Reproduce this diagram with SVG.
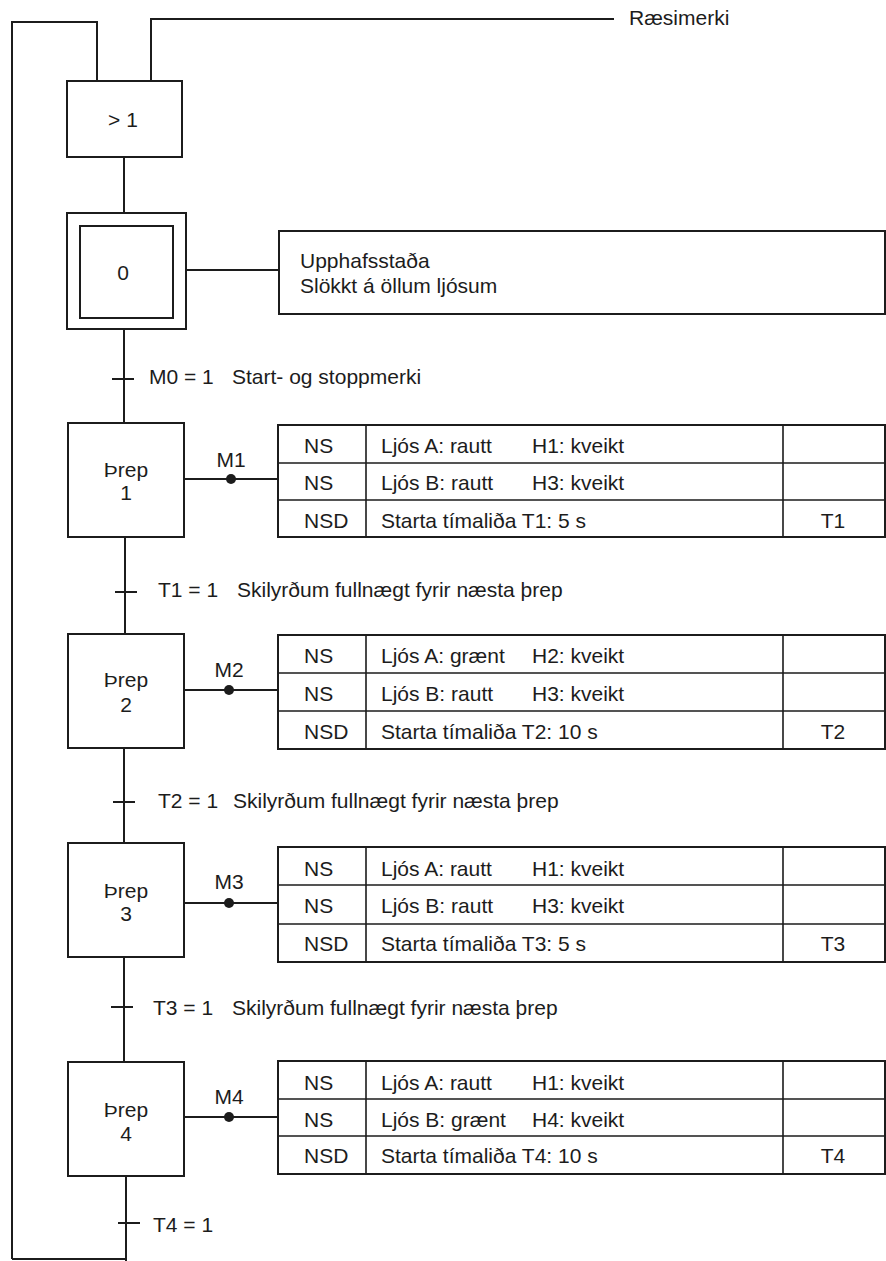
<svg xmlns="http://www.w3.org/2000/svg" width="886" height="1261" viewBox="0 0 886 1261">
<style>
.ln{stroke:#1c1c1c;stroke-width:2;fill:none}
.tl{stroke:#1c1c1c;stroke-width:1.6;fill:none}
.box{fill:#fff;stroke:#1c1c1c;stroke-width:2}
.dot{fill:#1c1c1c}
text{font-family:"Liberation Sans",Arial,Helvetica,sans-serif;font-size:21px;fill:#1c1c1c}
.c{text-anchor:middle}
</style>
<rect width="886" height="1261" fill="#fff"/>
<g id="connectors">
  <path class="ln" d="M12,1259 V22 H97 V81"/>
  <path class="ln" d="M151,81 V19 H614"/>
  <path class="ln" d="M124,157 V213"/>
  <path class="ln" d="M124,329 V423"/>
  <path class="ln" d="M112,379 H134"/>
  <path class="ln" d="M125,537 V634"/>
  <path class="ln" d="M115,592 H137"/>
  <path class="ln" d="M124,748 V843"/>
  <path class="ln" d="M113,802 H135"/>
  <path class="ln" d="M124,957 V1062"/>
  <path class="ln" d="M111,1007 H133"/>
  <path class="ln" d="M126,1176 V1261"/>
  <path class="ln" d="M118,1223 H140"/>
  <path class="ln" d="M12,1259 H126"/>
  <path class="ln" d="M186,270 H279"/>
  <path class="ln" d="M184,479 H277"/>
  <circle class="dot" cx="231" cy="479" r="5"/>
  <path class="ln" d="M184,690 H277"/>
  <circle class="dot" cx="229" cy="690" r="5"/>
  <path class="ln" d="M184,903 H277"/>
  <circle class="dot" cx="229" cy="903" r="5"/>
  <path class="ln" d="M184,1117 H277"/>
  <circle class="dot" cx="229" cy="1117" r="5"/>
</g>
<g id="start-signal">
  <text x="629" y="25">Ræsimerki</text>
</g>
<g id="or-block">
  <rect class="box" x="67" y="81" width="115" height="76"/>
  <text class="c" x="123" y="127">&gt; 1</text>
</g>
<g id="step0">
  <rect class="box" x="67" y="213" width="119" height="116"/>
  <rect class="box" x="80" y="226" width="93" height="92"/>
  <text class="c" x="123" y="280">0</text>
</g>
<g id="step0-action">
  <rect class="box" x="279" y="231" width="606" height="83"/>
  <text x="300" y="268">Upphafsstaða</text>
  <text x="300" y="293">Slökkt á öllum ljósum</text>
</g>
<g id="transition0">
  <text x="149" y="384">M0 = 1</text>
  <text x="232" y="384">Start- og stoppmerki</text>
</g>
<g id="step1">
  <rect class="box" x="68" y="423" width="116" height="114"/>
  <text class="c" x="126" y="477">Þrep</text>
  <text class="c" x="126" y="500">1</text>
  <text class="c" x="231" y="467">M1</text>
</g>
<g id="step1-actions">
  <rect class="box" x="278" y="425" width="607" height="112"/>
  <path class="tl" d="M278,463 H885 M278,500 H885 M366,425 V537 M783,425 V537"/>
  <text x="304" y="453">NS</text><text x="381" y="453">Ljós A: rautt</text><text x="532" y="453">H1: kveikt</text>
  <text x="304" y="490">NS</text><text x="381" y="490">Ljós B: rautt</text><text x="532" y="490">H3: kveikt</text>
  <text x="304" y="528">NSD</text><text x="381" y="528">Starta tímaliða T1: 5 s</text><text class="c" x="833" y="528">T1</text>
</g>
<g id="transition1">
  <text x="158" y="597">T1 = 1</text>
  <text x="237" y="597">Skilyrðum fullnægt fyrir næsta þrep</text>
</g>
<g id="step2">
  <rect class="box" x="68" y="634" width="116" height="114"/>
  <text class="c" x="126" y="687">Þrep</text>
  <text class="c" x="126" y="712">2</text>
  <text class="c" x="229" y="677">M2</text>
</g>
<g id="step2-actions">
  <rect class="box" x="278" y="635" width="607" height="114"/>
  <path class="tl" d="M278,673 H885 M278,711 H885 M366,635 V749 M783,635 V749"/>
  <text x="304" y="663">NS</text><text x="381" y="663">Ljós A: grænt</text><text x="532" y="663">H2: kveikt</text>
  <text x="304" y="701">NS</text><text x="381" y="701">Ljós B: rautt</text><text x="532" y="701">H3: kveikt</text>
  <text x="304" y="739">NSD</text><text x="381" y="739">Starta tímaliða T2: 10 s</text><text class="c" x="833" y="739">T2</text>
</g>
<g id="transition2">
  <text x="158" y="808">T2 = 1</text>
  <text x="233" y="808">Skilyrðum fullnægt fyrir næsta þrep</text>
</g>
<g id="step3">
  <rect class="box" x="68" y="843" width="116" height="114"/>
  <text class="c" x="126" y="898">Þrep</text>
  <text class="c" x="126" y="921">3</text>
  <text class="c" x="229" y="889">M3</text>
</g>
<g id="step3-actions">
  <rect class="box" x="278" y="847" width="607" height="115"/>
  <path class="tl" d="M278,885 H885 M278,924 H885 M366,847 V962 M783,847 V962"/>
  <text x="304" y="876">NS</text><text x="381" y="876">Ljós A: rautt</text><text x="532" y="876">H1: kveikt</text>
  <text x="304" y="913">NS</text><text x="381" y="913">Ljós B: rautt</text><text x="532" y="913">H3: kveikt</text>
  <text x="304" y="951">NSD</text><text x="381" y="951">Starta tímaliða T3: 5 s</text><text class="c" x="833" y="951">T3</text>
</g>
<g id="transition3">
  <text x="153" y="1015">T3 = 1</text>
  <text x="232" y="1015">Skilyrðum fullnægt fyrir næsta þrep</text>
</g>
<g id="step4">
  <rect class="box" x="68" y="1062" width="116" height="114"/>
  <text class="c" x="126" y="1117">Þrep</text>
  <text class="c" x="126" y="1141">4</text>
  <text class="c" x="229" y="1104">M4</text>
</g>
<g id="step4-actions">
  <rect class="box" x="278" y="1061" width="607" height="113"/>
  <path class="tl" d="M278,1099 H885 M278,1136 H885 M366,1061 V1174 M783,1061 V1174"/>
  <text x="304" y="1090">NS</text><text x="381" y="1090">Ljós A: rautt</text><text x="532" y="1090">H1: kveikt</text>
  <text x="304" y="1127">NS</text><text x="381" y="1127">Ljós B: grænt</text><text x="532" y="1127">H4: kveikt</text>
  <text x="304" y="1163">NSD</text><text x="381" y="1163">Starta tímaliða T4: 10 s</text><text class="c" x="833" y="1163">T4</text>
</g>
<g id="transition4">
  <text x="153" y="1232">T4 = 1</text>
</g>
</svg>
